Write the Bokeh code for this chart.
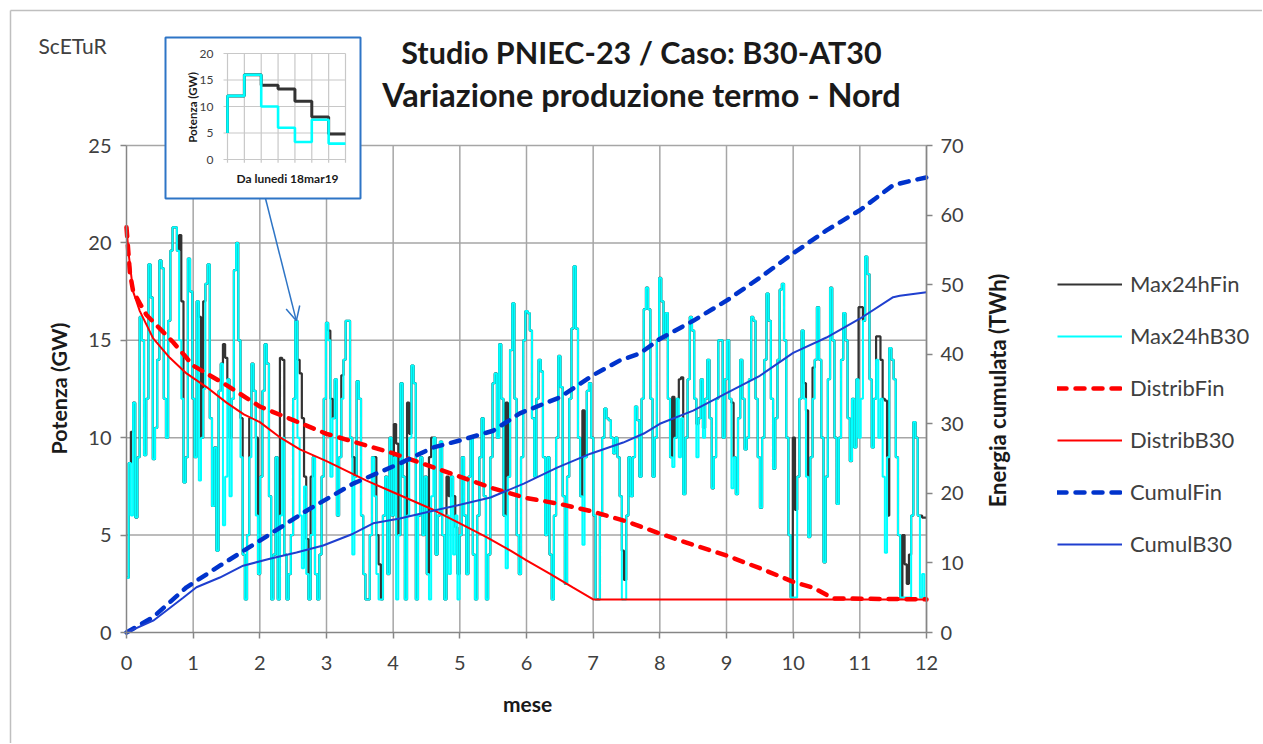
import math
from bokeh.plotting import figure
from bokeh.models import Range1d, LinearAxis, Legend, LegendItem, Label, Arrow, OpenHead
from bokeh.core.properties import value
from bokeh.embed import file_html
from bokeh.resources import INLINE

# ---------------- data ----------------
title_line1 = "Studio PNIEC-23 / Caso: B30-AT30"
title_line2 = "Variazione produzione termo - Nord"
corner_text = "ScETuR"
x_label = "mese"
y_label = "Potenza (GW)"
e_label = "Energia cumulata (TWh)"
inset_x_label = "Da lunedi 18mar19"

x_ticks = list(range(13))
y_ticks = [0, 5, 10, 15, 20, 25]
e_ticks = [0, 10, 20, 30, 40, 50, 60, 70]
inset_y_ticks = [0, 5, 10, 15, 20]

# daily max power, scenario B30 (GW), month by month
b30_jan = [2.8, 8.7, 6.0, 11.8, 5.9, 9.0, 16.2, 15.0, 9.1, 12.0, 18.9, 17.2, 8.9, 10.5, 14.0, 19.1,
           18.7, 12.0, 10.0, 16.0, 19.6, 20.8, 20.8, 19.6, 15.0, 12.0, 7.7, 9.0, 19.2, 17.5, 12.0]
b30_feb = [9.0, 17.0, 7.8, 10.0, 12.5, 17.9, 18.9, 11.0, 6.5, 9.5, 4.2, 12.4, 13.8, 5.5, 8.0, 13.0,
           7.0, 12.0, 18.6, 20.0, 15.0, 9.0, 4.0, 1.7, 5.0, 9.0, 13.8, 12.4, 6.0]
b30_mar = [3.0, 8.0, 12.4, 14.8, 13.8, 7.0, 1.7, 4.0, 9.0, 1.7, 6.0, 10.0, 4.0, 1.7, 3.0, 5.0,
           12.0, 16.0, 10.0, 6.0, 3.3, 7.5, 3.0, 1.7, 5.0, 9.0, 3.0, 1.7, 4.0, 8.0]
b30_apr = [12.0, 15.9, 15.0, 8.0, 11.0, 13.0, 6.0, 9.0, 12.0, 14.0, 16.0, 16.0, 10.0, 4.0, 8.0, 12.9,
           12.0, 6.0, 3.0, 1.7, 1.7, 5.0, 9.0, 7.0, 3.0, 1.7, 1.7, 6.0, 8.0, 3.0]
b30_may = [10.0, 6.0, 9.0, 1.7, 5.0, 12.8, 8.0, 1.7, 6.0, 10.0, 13.7, 12.8, 1.7, 6.0, 9.0, 5.0,
           8.0, 3.0, 1.7, 7.0, 10.0, 4.0, 6.0, 9.8, 5.0, 1.7, 6.0, 3.0, 8.0, 4.0, 6.0]
b30_jun = [1.7, 5.0, 9.0, 6.0, 3.0, 8.0, 10.0, 4.0, 1.7, 6.0, 9.0, 11.0, 7.0, 1.7, 4.0, 9.0,
           12.8, 13.3, 10.0, 14.8, 12.0, 6.0, 3.3, 8.0, 14.5, 16.9, 12.0, 5.0, 3.0, 9.0]
b30_jul = [15.0, 16.5, 16.4, 15.5, 11.0, 8.0, 12.0, 14.0, 13.4, 9.0, 5.0, 9.0, 4.0, 1.7, 6.0, 10.0,
           14.2, 12.6, 7.0, 2.5, 8.0, 12.0, 15.6, 18.8, 15.6, 10.0, 7.0, 4.5, 9.0, 12.4, 12.8]
b30_aug = [10.0, 6.0, 1.7, 1.7, 6.0, 10.0, 11.5, 11.0, 10.9, 10.0, 9.2, 10.0, 9.0, 7.0, 1.7, 1.7,
           6.0, 9.0, 7.0, 9.0, 11.6, 10.9, 8.0, 12.0, 16.6, 17.7, 16.6, 12.0, 8.0, 10.0, 15.0]
b30_sep = [18.2, 17.0, 15.1, 16.4, 12.0, 9.0, 8.5, 10.0, 12.0, 9.0, 11.0, 7.1, 10.0, 13.0, 16.2, 15.5,
           12.0, 9.0, 11.0, 13.0, 10.0, 12.0, 14.0, 11.0, 7.4, 9.0, 12.0, 15.0, 15.0, 10.0]
b30_oct = [13.0, 15.0, 12.0, 7.4, 9.0, 7.1, 11.0, 14.0, 12.0, 9.4, 10.0, 13.0, 16.2, 16.0, 12.0, 9.0,
           6.4, 10.0, 14.0, 17.4, 16.0, 12.0, 8.4, 11.0, 14.0, 17.6, 17.9, 15.0, 10.0, 5.0, 1.8]
b30_nov = [1.8, 1.8, 8.0, 12.0, 15.5, 12.0, 8.0, 4.9, 9.0, 12.0, 14.0, 16.7, 14.0, 10.0, 3.6, 8.0,
           13.0, 17.7, 15.0, 10.0, 6.6, 10.0, 14.0, 16.4, 15.0, 11.0, 8.8, 12.0, 9.5, 13.0]
b30_dec = [10.0, 12.0, 16.0, 19.3, 18.4, 13.0, 9.5, 12.0, 14.0, 10.0, 12.0, 8.0, 4.1, 9.0, 14.6, 14.0,
           13.0, 9.0, 5.0, 1.8, 1.8, 1.8, 1.8, 1.8, 6.0, 10.8, 10.0, 6.0, 1.8, 3.0, 1.8]

# days where the "Fin" daily max differs from B30 (day index, GW)
fin_diff_days = [2, 24, 25, 33, 35, 44, 45, 47, 52, 56, 59, 70, 71, 78, 79, 80, 81, 82, 84, 92, 93,
                 98, 103, 113, 114, 115, 122, 123, 128, 129, 138, 139, 146, 147, 149, 150, 151, 173,
                 208, 226, 227, 249, 252, 253, 260, 263, 276, 304, 305, 309, 310, 313, 334, 335,
                 342, 343, 344, 345, 346, 347, 354, 355, 356, 357, 362, 363, 364]
fin_diff_vals = [10.3, 20.4, 17.0, 16.2, 17.0, 14.8, 14.1, 10.0, 11.0, 11.0, 10.0, 14.1, 14.0, 14.0,
                 13.3, 11.0, 8.0, 4.8, 8.0, 15.5, 12.0, 13.2, 9.0, 9.0, 5.0, 3.5, 10.7, 9.7, 11.8,
                 10.2, 9.0, 10.0, 8.0, 7.0, 7.0, 5.4, 3.0, 11.8, 11.4, 4.2, 2.7, 12.1, 13.0, 13.1,
                 10.7, 10.5, 11.8, 10.0, 6.3, 12.8, 11.4, 13.6, 16.7, 16.7, 15.2, 15.2, 14.0, 12.0,
                 11.9, 6.0, 5.0, 3.5, 2.5, 4.0, 6.0, 5.9, 5.9]

# duration curves (month, GW)
distrib_fin_x = [0, 0.05, 0.1, 0.2, 0.3, 0.5, 0.7, 0.9, 1.0, 1.25, 1.5, 2.0, 2.5, 3.0, 3.5, 4.0, 4.5,
                 5.0, 5.5, 6.0, 6.5, 7.0, 7.5, 8.0, 8.5, 9.0, 9.5, 10.0, 10.3, 10.6, 12.0]
distrib_fin_y = [20.8, 18.5, 17.5, 16.9, 16.3, 15.6, 14.9, 14.1, 13.7, 13.2, 12.7, 11.6, 10.9, 10.2,
                 9.7, 9.2, 8.6, 8.0, 7.4, 6.9, 6.6, 6.2, 5.7, 5.08, 4.5, 3.95, 3.3, 2.6, 2.3, 1.75, 1.7]
distrib_b30_x = [0, 0.03, 0.1, 0.2, 0.4, 0.65, 0.9, 1.2, 1.5, 1.76, 2.0, 2.31, 2.6, 3.0, 3.6, 4.0,
                 4.6, 5.0, 5.4, 5.76, 6.0, 6.36, 6.7, 7.0, 12.0]
distrib_b30_y = [20.8, 19.5, 17.5, 16.5, 15.1, 14.1, 13.3, 12.6, 11.8, 11.2, 10.8, 10.0, 9.4, 8.8,
                 7.8, 7.2, 6.3, 5.6, 4.9, 4.2, 3.7, 3.0, 2.3, 1.7, 1.7]

# cumulated energy (month, TWh)
cumul_fin_x = [0, 0.4, 0.9, 1.4, 2.0, 2.7, 3.4, 4.1, 4.6, 5.0, 5.5, 5.9, 6.5, 7.0, 7.4, 7.7, 8.0,
               8.5, 9.0, 9.5, 10.0, 10.5, 11.0, 11.5, 11.8, 12.0]
cumul_fin_y = [0, 2.2, 6.5, 9.6, 13.2, 17.5, 21.4, 24.3, 26.6, 27.6, 29.0, 31.5, 33.8, 37.0, 39.1,
               40.1, 42.2, 44.8, 47.7, 51.0, 54.5, 57.8, 60.7, 64.3, 65.0, 65.4]
cumul_b30_x = [0, 0.4, 0.85, 1.05, 1.4, 1.75, 2.15, 2.55, 2.95, 3.4, 3.7, 4.1, 4.6, 4.97, 5.46,
               5.96, 6.46, 6.96, 7.45, 7.76, 8.0, 8.5, 9.0, 9.5, 10.0, 10.5, 11.0, 11.5, 11.6, 12.0]
cumul_b30_y = [0, 1.7, 5.0, 6.5, 7.9, 9.6, 10.6, 11.5, 12.5, 14.2, 15.7, 16.4, 17.5, 18.3, 19.4,
               21.4, 23.7, 25.7, 27.3, 28.6, 30.0, 31.9, 34.4, 36.9, 40.2, 42.4, 45.1, 48.2, 48.4, 48.9]

inset_first_day = 76      # 18 March
inset_n_days = 7

# ---------------- derived series ----------------
max24h_b30 = (b30_jan + b30_feb + b30_mar + b30_apr + b30_may + b30_jun +
              b30_jul + b30_aug + b30_sep + b30_oct + b30_nov + b30_dec)
max24h_fin = list(max24h_b30)
for d, v in zip(fin_diff_days, fin_diff_vals):
    max24h_fin[d] = v
n_days = len(max24h_b30)
day_x = [d * 12.0 / n_days for d in range(n_days)] + [12.0]
b30_step = max24h_b30 + [max24h_b30[-1]]
fin_step = max24h_fin + [max24h_fin[-1]]

s0 = inset_first_day
inset_x = [0] + list(range(inset_n_days + 1))
inset_b30 = [max24h_b30[s0 - 1]] + max24h_b30[s0:s0 + inset_n_days] + [max24h_b30[s0 + inset_n_days - 1]]
inset_fin = [max24h_fin[s0 - 1]] + max24h_fin[s0:s0 + inset_n_days] + [max24h_fin[s0 + inset_n_days - 1]]

# ---------------- layout (canvas pixels; the frame covers the whole canvas) ----------------
W, H = 1262, 743
AX_L, AX_R, AX_B, AX_T = 126, 926, 632, 145   # pixel of x=0, x=12, y=0, y=25 (e=70)
x_ppu = (AX_R - AX_L) / 12.0
y_ppu = (AX_B - AX_T) / 25.0
e_ppu = (AX_B - AX_T) / 70.0


def px2x(px):
    return (px - AX_L) / x_ppu


def px2y(py):
    return (AX_B - py) / y_ppu


IN_L, IN_R, IN_T, IN_B = 227, 345, 53, 159   # inset plot area (day 0..7, 0..20 GW)
ix_ppu = (IN_R - IN_L) / inset_n_days
iy_ppu = (IN_B - IN_T) / 20.0

FONT = "Lato"
TXT = "#404040"
DARK = "#1a1a1a"
GRID = "#a6a6a6"
AXC = "#868686"
BOX = "#2e75c6"

p = figure(width=W, height=H,
           x_range=Range1d(px2x(0), px2x(W)), y_range=Range1d(px2y(H), px2y(0)),
           output_backend="svg", toolbar_location=None, title=None,
           min_border_left=0, min_border_right=0, min_border_top=0, min_border_bottom=0,
           outline_line_color=None)
p.extra_y_ranges = {"e": Range1d((AX_B - H) / e_ppu, AX_B / e_ppu),
                    "iy": Range1d(-(H - IN_B) / iy_ppu, IN_B / iy_ppu)}
p.extra_x_ranges = {"ix": Range1d(-IN_L / ix_ppu, (W - IN_L) / ix_ppu)}
p.xgrid.visible = False
p.ygrid.visible = False


def style_axis(ax, standoff):
    ax.axis_line_color = AXC
    ax.axis_line_width = 1.5
    ax.major_tick_line_color = AXC
    ax.major_tick_line_width = 1.5
    ax.major_tick_in = 0
    ax.major_tick_out = 6
    ax.minor_tick_line_color = None
    ax.major_label_text_font = FONT
    ax.major_label_text_font_size = "20px"
    ax.major_label_text_color = TXT
    ax.major_label_standoff = standoff


xa = p.xaxis[0]
style_axis(xa, 17)
xa.ticker = x_ticks
xa.bounds = (0, 12)
xa.fixed_location = 0
ya = p.yaxis[0]
style_axis(ya, 9)
ya.ticker = y_ticks
ya.bounds = (0, 25)
ya.fixed_location = 0
ax_r = LinearAxis(y_range_name="e", ticker=e_ticks, bounds=(0, 70), fixed_location=12)
style_axis(ax_r, 8)
p.add_layout(ax_r, "right")

# outer chart border
p.segment(x0=[px2x(10), px2x(10)], y0=[px2y(10), px2y(10)], x1=[px2x(10), px2x(W)],
          y1=[px2y(H), px2y(10)], line_color="#bfbfbf", line_width=1.5)

# grid lines limited to the data area
p.segment(x0=x_ticks[1:], y0=[0] * 12, x1=x_ticks[1:], y1=[25] * 12, line_color=GRID, line_width=1.5)
p.segment(x0=[0] * 5, y0=y_ticks[1:], x1=[12] * 5, y1=y_ticks[1:], line_color=GRID, line_width=1.5)

# data series
r_fin = p.step(day_x, fin_step, mode="after", line_color="#333333", line_width=2.2)
r_b30 = p.step(day_x, b30_step, mode="after", line_color="#00ffff", line_width=2.0)
r_dfin = p.line(distrib_fin_x, distrib_fin_y, line_color="#ff0000", line_width=4.5,
                line_dash="9 9", line_cap="round")
r_db30 = p.line(distrib_b30_x, distrib_b30_y, line_color="#ff0000", line_width=2)
r_cfin = p.line(cumul_fin_x, cumul_fin_y, y_range_name="e", line_color="#0033cc", line_width=4.5,
                line_dash="9 9", line_cap="round")
r_cb30 = p.line(cumul_b30_x, cumul_b30_y, y_range_name="e", line_color="#1f3fcf", line_width=2)

# ---------------- inset ----------------
p.quad(left=px2x(165), right=px2x(360), top=px2y(37), bottom=px2y(198),
       fill_color="white", line_color=BOX, line_width=2)
inset_gx = list(range(inset_n_days + 1))
p.segment(x0=inset_gx, y0=[-0.6] * len(inset_gx), x1=inset_gx, y1=[20] * len(inset_gx),
          x_range_name="ix", y_range_name="iy", line_color="#c8c8c8", line_width=1.2)
p.segment(x0=[-4 / ix_ppu] * 5, y0=inset_y_ticks, x1=[inset_n_days] * 5, y1=inset_y_ticks,
          x_range_name="ix", y_range_name="iy", line_color="#c8c8c8", line_width=1.2)
p.text(x=[-14 / ix_ppu] * 5, y=inset_y_ticks, text=[str(t) for t in inset_y_ticks],
       x_range_name="ix", y_range_name="iy", text_align="right", text_baseline="middle",
       text_font=value(FONT), text_font_size="12px", text_color=TXT)
p.step(inset_x, inset_fin, mode="after", x_range_name="ix", y_range_name="iy",
       line_color="#333333", line_width=3)
p.step(inset_x, inset_b30, mode="after", x_range_name="ix", y_range_name="iy",
       line_color="#00ffff", line_width=2.6)
p.add_layout(Label(x=px2x(192), y=px2y(107), text=y_label, angle=math.pi / 2, text_align="center",
                   text_baseline="middle", text_font=FONT, text_font_style="bold",
                   text_font_size="11.5px", text_color=DARK))
p.add_layout(Label(x=px2x(287), y=px2y(178), text=inset_x_label, text_align="center",
                   text_baseline="middle", text_font=FONT, text_font_style="bold",
                   text_font_size="12px", text_color=DARK))

arrow_day_x = (inset_first_day + 1.5) * 12.0 / n_days
p.add_layout(Arrow(end=OpenHead(size=14, line_color=BOX, line_width=1.5),
                   x_start=px2x(265), y_start=px2y(198), x_end=arrow_day_x,
                   y_end=max24h_b30[inset_first_day + 1],
                   line_color=BOX, line_width=1.5))

# ---------------- texts ----------------
p.add_layout(Label(x=px2x(641), y=px2y(51), text=title_line1, text_align="center",
                   text_baseline="middle", text_font=FONT, text_font_style="bold",
                   text_font_size="30.5px", text_color=DARK))
p.add_layout(Label(x=px2x(641), y=px2y(94), text=title_line2, text_align="center",
                   text_baseline="middle", text_font=FONT, text_font_style="bold",
                   text_font_size="32.5px", text_color=DARK))
p.add_layout(Label(x=px2x(38), y=px2y(45), text=corner_text, text_align="left",
                   text_baseline="middle", text_font=FONT, text_font_size="21px", text_color=TXT))
p.add_layout(Label(x=px2x(58), y=px2y(388), text=y_label, angle=math.pi / 2, text_align="center",
                   text_baseline="middle", text_font=FONT, text_font_style="bold",
                   text_font_size="21.5px", text_color=DARK))
p.add_layout(Label(x=px2x(997), y=px2y(390), text=e_label, angle=math.pi / 2, text_align="center",
                   text_baseline="middle", text_font=FONT, text_font_style="bold",
                   text_font_size="22px", text_color=DARK))
p.add_layout(Label(x=px2x(527), y=px2y(703), text=x_label, text_align="center",
                   text_baseline="middle", text_font=FONT, text_font_style="bold",
                   text_font_size="21px", text_color=DARK))

legend = Legend(items=[
    LegendItem(label="Max24hFin", renderers=[r_fin]),
    LegendItem(label="Max24hB30", renderers=[r_b30]),
    LegendItem(label="DistribFin", renderers=[r_dfin]),
    LegendItem(label="DistribB30", renderers=[r_db30]),
    LegendItem(label="CumulFin", renderers=[r_cfin]),
    LegendItem(label="CumulB30", renderers=[r_cb30]),
], location=(1057, H - 557))
legend.glyph_width = 65
legend.glyph_height = 20
legend.label_height = 20
legend.spacing = 25
legend.label_standoff = 8
legend.padding = 0
legend.margin = 0
legend.border_line_color = None
legend.background_fill_alpha = 0
legend.label_text_font = FONT
legend.label_text_font_size = "22px"
legend.label_text_color = TXT
p.add_layout(legend, "center")

open("out.html", "w").write(file_html(p, INLINE))
